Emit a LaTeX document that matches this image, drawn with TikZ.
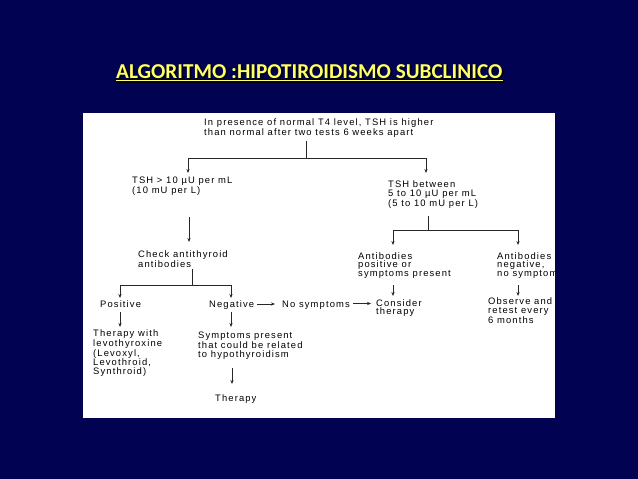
\documentclass[tikz,border=0pt]{standalone}
\usepackage{fontspec}
\setmainfont{Liberation Sans}
\newfontfamily\titlefont{Carlito}
\newfontfamily\diagfont[LetterSpace=12]{Liberation Sans}
\usetikzlibrary{arrows.meta,calc}
\definecolor{navy}{RGB}{2,2,82}
\definecolor{titleyellow}{RGB}{255,255,102}
\definecolor{linegray}{RGB}{40,40,40}
\begin{document}
\begin{tikzpicture}[x=1pt,y=-1pt,
  txt/.style={anchor=base west, inner sep=0pt, align=left, font=\diagfont\fontsize{9.4}{8.6}\selectfont, text=black},
  conn/.style={draw=linegray, line width=0.7pt},
  arr/.style={conn, -{Stealth[length=4pt,width=3.2pt]}},
  titletxt/.style={anchor=base west, inner sep=0pt, font=\titlefont\bfseries\fontsize{21.2}{24}\selectfont}]
\useasboundingbox (0,0) rectangle (638,479);
\fill[navy] (0,0) rectangle (638,479);
\fill[white] (83,113) rectangle (555,418);
% title
\node[titletxt, text=black] (titleshadow) at (117.5,79.5) {ALGORITMO :HIPOTIROIDISMO SUBCLINICO};
\node[titletxt, text=titleyellow] (title) at (116,78) {ALGORITMO :HIPOTIROIDISMO SUBCLINICO};
\draw[black, line width=1.2pt] ($(title.base west)+(1.5,4)$) -- ($(title.base east)+(1.5,4)$);
\draw[titleyellow, line width=1.2pt] ($(title.base west)+(0,2.5)$) -- ($(title.base east)+(0,2.5)$);
\begin{scope}
\clip (83,113) rectangle (555,418);
% multi-line nodes are placed at the baseline of their last line
\node[txt] (top) at (204,135.6) {In presence of normal T4 level, TSH is higher\\than normal after two tests 6 weeks apart};
\node[txt] (high) at (132,193.6) {TSH > 10 µU per mL\\(10 mU per L)};
\node[txt] (mid) at (388,206.2) {TSH between\\5 to 10 µU per mL\\(5 to 10 mU per L)};
\node[txt] (check) at (138,267.6) {Check antithyroid\\antibodies};
\node[txt] (abpos) at (358,276.2) {Antibodies\\positive or\\symptoms present};
\node[txt] (abneg) at (497,276.2) {Antibodies\\negative,\\no symptom};
\node[txt] (pos) at (100,307) {Positive};
\node[txt] (neg) at (209,307) {Negative};
\node[txt] (nosym) at (282,307) {No symptoms};
\node[txt] (consider) at (376,314.6) {Consider\\therapy};
\node[txt] (observe) at (488,323.2) {Observe and\\retest every\\6 months};
\node[txt] (levo) at (93,374.4) {Therapy with\\levothyroxine\\(Levoxyl,\\Levothroid,\\Synthroid)};
\node[txt] (sympt) at (198,357.2) {Symptoms present\\that could be related\\to hypothyroidism};
\node[txt] (ther) at (215,401) {Therapy};
% connector points
\coordinate (t1) at (306,141);
\coordinate (j1) at (306,158);
\coordinate (h1) at (188,173);
\coordinate (m1) at (426,173);
\coordinate (h2) at (189,217);
\coordinate (c1) at (189,242);
\coordinate (m2) at (428,216);
\coordinate (j2) at (428,230);
\coordinate (ap1) at (393,245);
\coordinate (an1) at (518,245);
\coordinate (c2) at (192,269);
\coordinate (j3) at (192,285);
\coordinate (p1) at (120,298);
\coordinate (n1) at (231,298);
\coordinate (p2) at (120,312);
\coordinate (p3) at (120,327);
\coordinate (n2) at (231,312);
\coordinate (n3) at (231,327);
\coordinate (n4) at (257,304);
\coordinate (ns1) at (275,304);
\coordinate (ns2) at (353,303.5);
\coordinate (cs1) at (371,303.5);
\coordinate (s1) at (232,368);
\coordinate (th1) at (232,384);
\coordinate (ap2) at (393,285);
\coordinate (ap3) at (393,296);
\coordinate (an2) at (518,285);
\coordinate (an3) at (518,296);
\draw[conn] (t1) -- (j1);
\draw[arr] (j1) -| (h1);
\draw[arr] (j1) -| (m1);
\draw[arr] (h2) -- (c1);
\draw[conn] (m2) -- (j2);
\draw[arr] (j2) -| (ap1);
\draw[arr] (j2) -| (an1);
\draw[conn] (c2) -- (j3);
\draw[arr] (j3) -| (p1);
\draw[arr] (j3) -| (n1);
\draw[arr] (p2) -- (p3);
\draw[arr] (n2) -- (n3);
\draw[arr] (n4) -- (ns1);
\draw[arr] (ns2) -- (cs1);
\draw[arr] (s1) -- (th1);
\draw[arr] (ap2) -- (ap3);
\draw[arr] (an2) -- (an3);
\end{scope}
\end{tikzpicture}
\end{document}
